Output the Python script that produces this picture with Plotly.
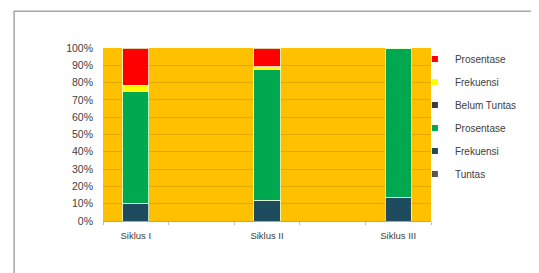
import plotly.graph_objects as go

categories = ["Siklus I", " ", "Siklus II", "  ", "Siklus III"]
tuntas = [0, None, 0, None, 0]
frek_tuntas = [12, None, 14, None, 16]
pros_tuntas = [75, None, 87.5, None, 100]
belum_tuntas = [0, None, 0, None, 0]
frek_belum = [4, None, 2, None, 0]
pros_belum = [25, None, 12.5, None, 0]

series = [
    ("Tuntas", tuntas, "#595959"),
    ("Frekuensi", frek_tuntas, "#1F4B5E"),
    ("Prosentase", pros_tuntas, "#00A84F"),
    ("Belum Tuntas", belum_tuntas, "#3A3A48"),
    ("Frekuensi", frek_belum, "#FFFF00"),
    ("Prosentase", pros_belum, "#FF0000"),
]

fig = go.Figure()
for i, (name, vals, col) in enumerate(series):
    fig.add_trace(go.Bar(
        x=categories, y=vals, name=name, showlegend=False,
        marker=dict(color=col, line=dict(color="rgba(230,255,220,0.8)", width=1)),
    ))
# legend entries, listed top to bottom as in the stacked chart
for i, (name, vals, col) in enumerate(reversed(series)):
    fig.add_trace(go.Scatter(
        x=[None], y=[None], mode="markers", name=name, legendgroup=f"g{i}",
        marker=dict(symbol="square", size=6, color=col),
    ))

fig.update_layout(
    barmode="stack", barnorm="percent",
    width=539, height=273,
    margin=dict(l=95, r=116, t=40, b=60),
    paper_bgcolor="white", plot_bgcolor="#FFC000",
    bargap=0.6,
    font=dict(family="Liberation Sans, Arial, sans-serif", size=10, color="#404040"),
    showlegend=True,
    legend=dict(x=0.951, y=1.02, xanchor="left", yanchor="top",
                traceorder="grouped", tracegroupgap=4, maxheight=260,
                font=dict(size=10, color="#404040"),
                bgcolor="rgba(0,0,0,0)", itemwidth=30),
    shapes=[dict(type="rect", xref="paper", yref="paper",
                 x0=-0.271, y0=-0.6, x1=1.6, y1=1.213,
                 line=dict(color="#A6A6A6", width=1.5), layer="below")],
)
fig.update_yaxes(range=[0, 100], dtick=10, ticksuffix="%", gridcolor="#E0A900",
                 gridwidth=1, showline=False, zeroline=False,
                 tickfont=dict(size=10.5), ticks="", ticklabelstandoff=9)
fig.update_xaxes(showline=True, linecolor="#E0A900", ticks="outside", ticklen=3,
                 tickcolor="#BFBFBF", tickson="boundaries", tickfont=dict(size=9.5),
                 ticklabelstandoff=6, range=[-0.5, 4.5])

fig.write_html("out.html")
